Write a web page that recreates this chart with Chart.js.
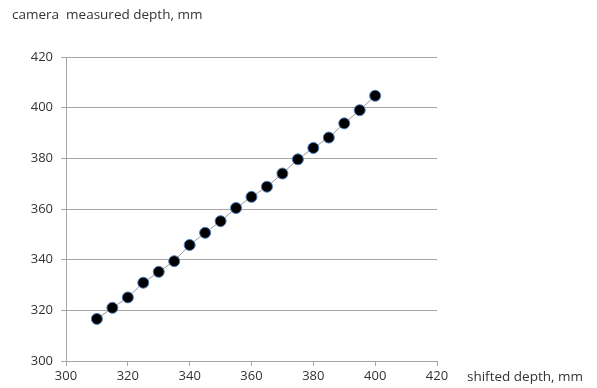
<!DOCTYPE html>
<html>
<head>
<meta charset="utf-8">
<script src="https://cdn.jsdelivr.net/npm/chart.js@4"></script>
<style>
  html, body { margin: 0; padding: 0; background: #fff; }
  #wrap { width: 597px; height: 388px; }
</style>
</head>
<body>
<div id="wrap"><canvas id="c" width="597" height="388"></canvas></div>
<script>
// data
const shiftedDepth = [310, 315, 320, 325, 330, 335, 340, 345, 350, 355, 360, 365, 370, 375, 380, 385, 390, 395, 400];
const measuredDepth = [316.6, 321.0, 325.1, 330.9, 335.2, 339.4, 345.8, 350.6, 355.2, 360.4, 364.8, 368.8, 374.0, 379.6, 384.1, 388.2, 393.8, 399.0, 404.7];
const yTitle = "camera  measured depth, mm";
const xTitle = "shifted depth, mm";

const fontFam = '"Open Sans", "DejaVu Sans", sans-serif';

// titles drawn as text next to the axes
const axisTitles = {
    id: "axisTitles",
    afterDraw(chart) {
        const ctx = chart.ctx;
        const area = chart.chartArea;
        ctx.save();
        ctx.fillStyle = "#333";
        ctx.font = "13.5px " + fontFam;
        ctx.textBaseline = "middle";
        ctx.textAlign = "left";
        ctx.fillText(yTitle, 12, 15);
        ctx.fillText(xTitle, area.right + 30, 377);
        ctx.restore();
    }
};

const points = shiftedDepth.map((x, i) => ({ x: x, y: measuredDepth[i] }));

new Chart(document.getElementById("c"), {
    type: "scatter",
    data: {
        datasets: [{
            data: points,
            showLine: true,
            borderColor: "#9a9a9a",
            borderWidth: 1,
            pointRadius: 5.5,
            pointBackgroundColor: "#000",
            pointBorderColor: "#4a7ebb",
            pointBorderWidth: 1
        }]
    },
    options: {
        responsive: false,
        animation: false,
        layout: { padding: { left: 0, right: 160, top: 57, bottom: 0 } },
        plugins: {
            legend: { display: false },
            tooltip: { enabled: false }
        },
        scales: {
            x: {
                type: "linear",
                min: 300,
                max: 420,
                ticks: {
                    stepSize: 20,
                    color: "#333",
                    font: { size: 13, family: fontFam },
                    padding: 2,
                    maxRotation: 0
                },
                grid: {
                    drawOnChartArea: false,
                    drawTicks: true,
                    tickLength: 5,
                    color: "#a6a6a6"
                },
                border: { color: "#a6a6a6" },
                afterFit(scale) { scale.height = 27; }
            },
            y: {
                min: 300,
                max: 420,
                ticks: {
                    stepSize: 20,
                    color: "#333",
                    font: { size: 13, family: fontFam },
                    padding: 8
                },
                grid: {
                    drawTicks: true,
                    tickLength: 5,
                    color: "#a6a6a6"
                },
                border: { color: "#a6a6a6" },
                afterFit(scale) { scale.width = 66; }
            }
        }
    },
    plugins: [axisTitles]
});
</script>
</body>
</html>
